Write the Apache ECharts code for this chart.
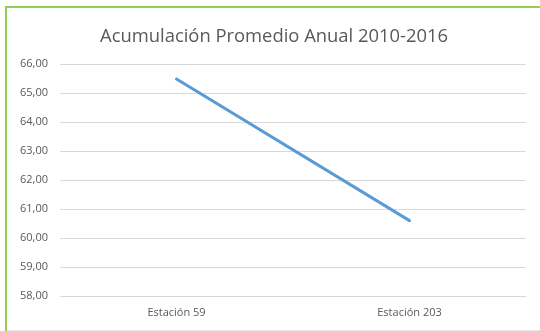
<!DOCTYPE html>
<html>
<head>
<meta charset="utf-8">
<script src="https://cdn.jsdelivr.net/npm/echarts@6/dist/echarts.min.js"></script>
<style>
  html, body { margin: 0; padding: 0; background: #ffffff; }
  #wrap { position: relative; width: 540px; height: 331px; overflow: hidden; }
  #chart { position: absolute; left: 0; top: 0; width: 540px; height: 331px; }
  #frame {
    position: absolute; left: 5px; top: 6px; width: 560px; height: 323px;
    border: 2px solid #92d050; border-right: none; pointer-events: none;
  }
  #frame::after {
    content: ""; position: absolute; left: 0; right: 0; bottom: 0; height: 1px; background: #e6e6e6;
  }
</style>
</head>
<body>
<div id="wrap">
  <div id="chart"></div>
  <div id="frame"></div>
</div>
<script>
const chartTitle = 'Acumulación Promedio Anual 2010-2016';
const stations = ['Estación 59', 'Estación 203'];
const annualMeans = [65.48, 60.60];
const yMin = 58, yMax = 66, yStep = 1;

const chart = echarts.init(document.getElementById('chart'), null, { renderer: 'canvas' });
const fontFamily = '"Open Sans", "Liberation Sans", sans-serif';

chart.setOption({
  animation: false,
  backgroundColor: 'transparent',
  title: {
    text: chartTitle,
    left: 95,
    top: 23,
    textStyle: { fontFamily, fontSize: 18.4, fontWeight: 'normal', color: '#595959' }
  },
  grid: { left: 60, right: 14, top: 64, bottom: 35, containLabel: false },
  xAxis: {
    type: 'category',
    data: stations,
    boundaryGap: true,
    axisLine: { show: true, lineStyle: { color: '#d9d9d9', width: 1 } },
    axisTick: { show: false },
    axisLabel: { fontFamily, fontSize: 11, color: '#595959', margin: 11 }
  },
  yAxis: {
    type: 'value',
    min: yMin, max: yMax, interval: yStep,
    axisLine: { show: false },
    axisTick: { show: false },
    axisLabel: {
      fontFamily, fontSize: 11, color: '#595959', margin: 12,
      formatter: v => v.toFixed(2).replace('.', ',')
    },
    splitLine: { lineStyle: { color: '#d9d9d9', width: 1 } }
  },
  series: [{
    type: 'line',
    data: annualMeans,
    symbol: 'none',
    lineStyle: { color: '#5b9bd5', width: 3, cap: 'round' }
  }]
});
</script>
</body>
</html>
